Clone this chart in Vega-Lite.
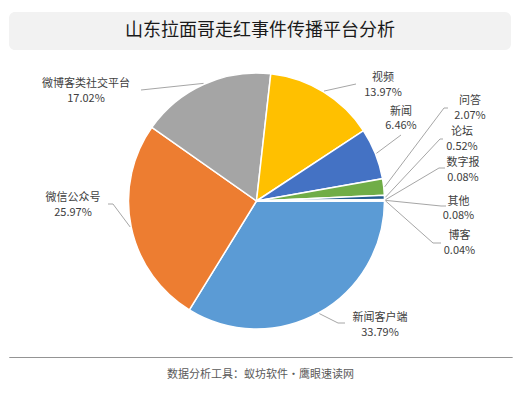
{
  "$schema": "https://vega.github.io/schema/vega-lite/v6.json",
  "padding": {"left": 8, "top": 12, "right": 8, "bottom": 12},
  "background": "white",
  "config": {"view": {"stroke": null}, "font": "Noto Sans CJK SC"},
  "spacing": 0,
  "vconcat": [
    {
      "width": 502,
      "height": 38,
      "view": {"fill": "#f2f2f2", "cornerRadius": 6, "stroke": null},
      "data": {"values": [{"t": "山东拉面哥走红事件传播平台分析"}]},
      "mark": {"type": "text", "fontSize": 18, "font": "Noto Sans CJK SC", "color": "#1a1a1a", "baseline": "middle"},
      "encoding": {"text": {"field": "t"}}
    },
    {
      "spacing": 4,
      "vconcat": [
        {
          "width": 495,
          "height": 302,
          "data": {
            "values": [
              {"name": "新闻客户端", "value": 33.79, "order": 1},
              {"name": "微信公众号", "value": 25.97, "order": 2},
              {"name": "微博客类社交平台", "value": 17.02, "order": 3},
              {"name": "视频", "value": 13.97, "order": 4},
              {"name": "新闻", "value": 6.46, "order": 5},
              {"name": "问答", "value": 2.07, "order": 6},
              {"name": "论坛", "value": 0.52, "order": 7},
              {"name": "数字报", "value": 0.08, "order": 8},
              {"name": "其他", "value": 0.08, "order": 9},
              {"name": "博客", "value": 0.04, "order": 10}
            ]
          },
          "transform": [
            {"window": [{"op": "sum", "field": "value", "as": "cum"}], "sort": [{"field": "order"}]},
            {"calculate": "PI/2 + 2*PI*(datum.cum - datum.value/2)/100", "as": "mid"},
            {"calculate": "129*sin(datum.mid)", "as": "sx"},
            {"calculate": "129*cos(datum.mid)", "as": "sy"},
            {"calculate": "[[123.5,-124,81.5,-122,88.5],[-183.5,-4,-143.5,-3,-148.5],[-170.5,110,-115.5,111,-115.5],[126.5,116,99.5,117,99.5],[144.5,82.5,144.5,66,144.5],[213.5,93,187.5,93,191.5],[205.5,62,183.5,62,186.5],[206.5,31,182.5,33,188.5],[202,-7.5,184.5,-5,189.5],[203,-42,176.5,-42,184.5]][datum.order-1]", "as": "lay"},
            {"calculate": "datum.lay[0]", "as": "lx"},
            {"calculate": "datum.lay[1]", "as": "ly"},
            {"calculate": "datum.lay[2]", "as": "ex"},
            {"calculate": "datum.lay[3]", "as": "ey"},
            {"calculate": "datum.lay[4]", "as": "fx"},
            {"calculate": "format(datum.value, '.2f') + '%'", "as": "pct"}
          ],
          "layer": [
            {
              "mark": {"type": "arc", "outerRadius": 128, "stroke": "white", "strokeWidth": 1.5},
              "encoding": {
                "theta": {"field": "value", "type": "quantitative", "stack": true, "scale": {"range": [1.5707963, 7.8539816]}},
                "order": {"field": "order", "type": "quantitative"},
                "color": {
                  "field": "name", "type": "nominal", "legend": null,
                  "scale": {
                    "domain": ["新闻客户端", "微信公众号", "微博客类社交平台", "视频", "新闻", "问答", "论坛", "数字报", "其他", "博客"],
                    "range": ["#5B9BD5", "#ED7D31", "#A5A5A5", "#FFC000", "#4472C4", "#70AD47", "#255E91", "#9E480E", "#636363", "#997300"]
                  }
                }
              }
            },
            {
              "mark": {"type": "rule", "color": "#a6a6a6", "strokeWidth": 1},
              "encoding": {
                "x": {"field": "sx", "type": "quantitative", "axis": null, "scale": {"domain": [-247.5, 247.5], "nice": false, "zero": false}},
                "y": {"field": "sy", "type": "quantitative", "axis": null, "scale": {"domain": [-151, 151], "nice": false, "zero": false}},
                "x2": {"field": "ex"},
                "y2": {"field": "ey"}
              }
            },
            {
              "mark": {"type": "rule", "color": "#a6a6a6", "strokeWidth": 1},
              "encoding": {
                "x": {"field": "ex", "type": "quantitative", "axis": null, "scale": {"domain": [-247.5, 247.5], "nice": false, "zero": false}},
                "y": {"field": "ey", "type": "quantitative", "axis": null, "scale": {"domain": [-151, 151], "nice": false, "zero": false}},
                "x2": {"field": "fx"}
              }
            },
            {
              "mark": {"type": "text", "fontSize": 11, "color": "#404040", "align": "center", "baseline": "middle", "dy": -7},
              "encoding": {
                "x": {"field": "lx", "type": "quantitative", "axis": null, "scale": {"domain": [-247.5, 247.5], "nice": false, "zero": false}},
                "y": {"field": "ly", "type": "quantitative", "axis": null, "scale": {"domain": [-151, 151], "nice": false, "zero": false}},
                "text": {"field": "name"}
              }
            },
            {
              "mark": {"type": "text", "fontSize": 11, "color": "#404040", "align": "center", "baseline": "middle", "dy": 7.5},
              "encoding": {
                "x": {"field": "lx", "type": "quantitative", "axis": null, "scale": {"domain": [-247.5, 247.5], "nice": false, "zero": false}},
                "y": {"field": "ly", "type": "quantitative", "axis": null, "scale": {"domain": [-151, 151], "nice": false, "zero": false}},
                "text": {"field": "pct"}
              }
            }
          ]
        },
        {
          "width": 503,
          "height": 0.001,
          "view": {"stroke": "#707070", "strokeDash": [1, 1], "strokeWidth": 1, "fill": null},
          "data": {"values": [{"t": ""}]},
          "mark": {"type": "text", "fontSize": 0},
          "encoding": {"text": {"field": "t"}}
        },
        {
          "width": 503,
          "height": 26,
          "data": {"values": [{"t": "数据分析工具：蚁坊软件・鹰眼速读网"}]},
          "mark": {"type": "text", "fontSize": 11, "color": "#595959", "baseline": "middle"},
          "encoding": {"text": {"field": "t"}}
        }
      ]
    }
  ]
}
